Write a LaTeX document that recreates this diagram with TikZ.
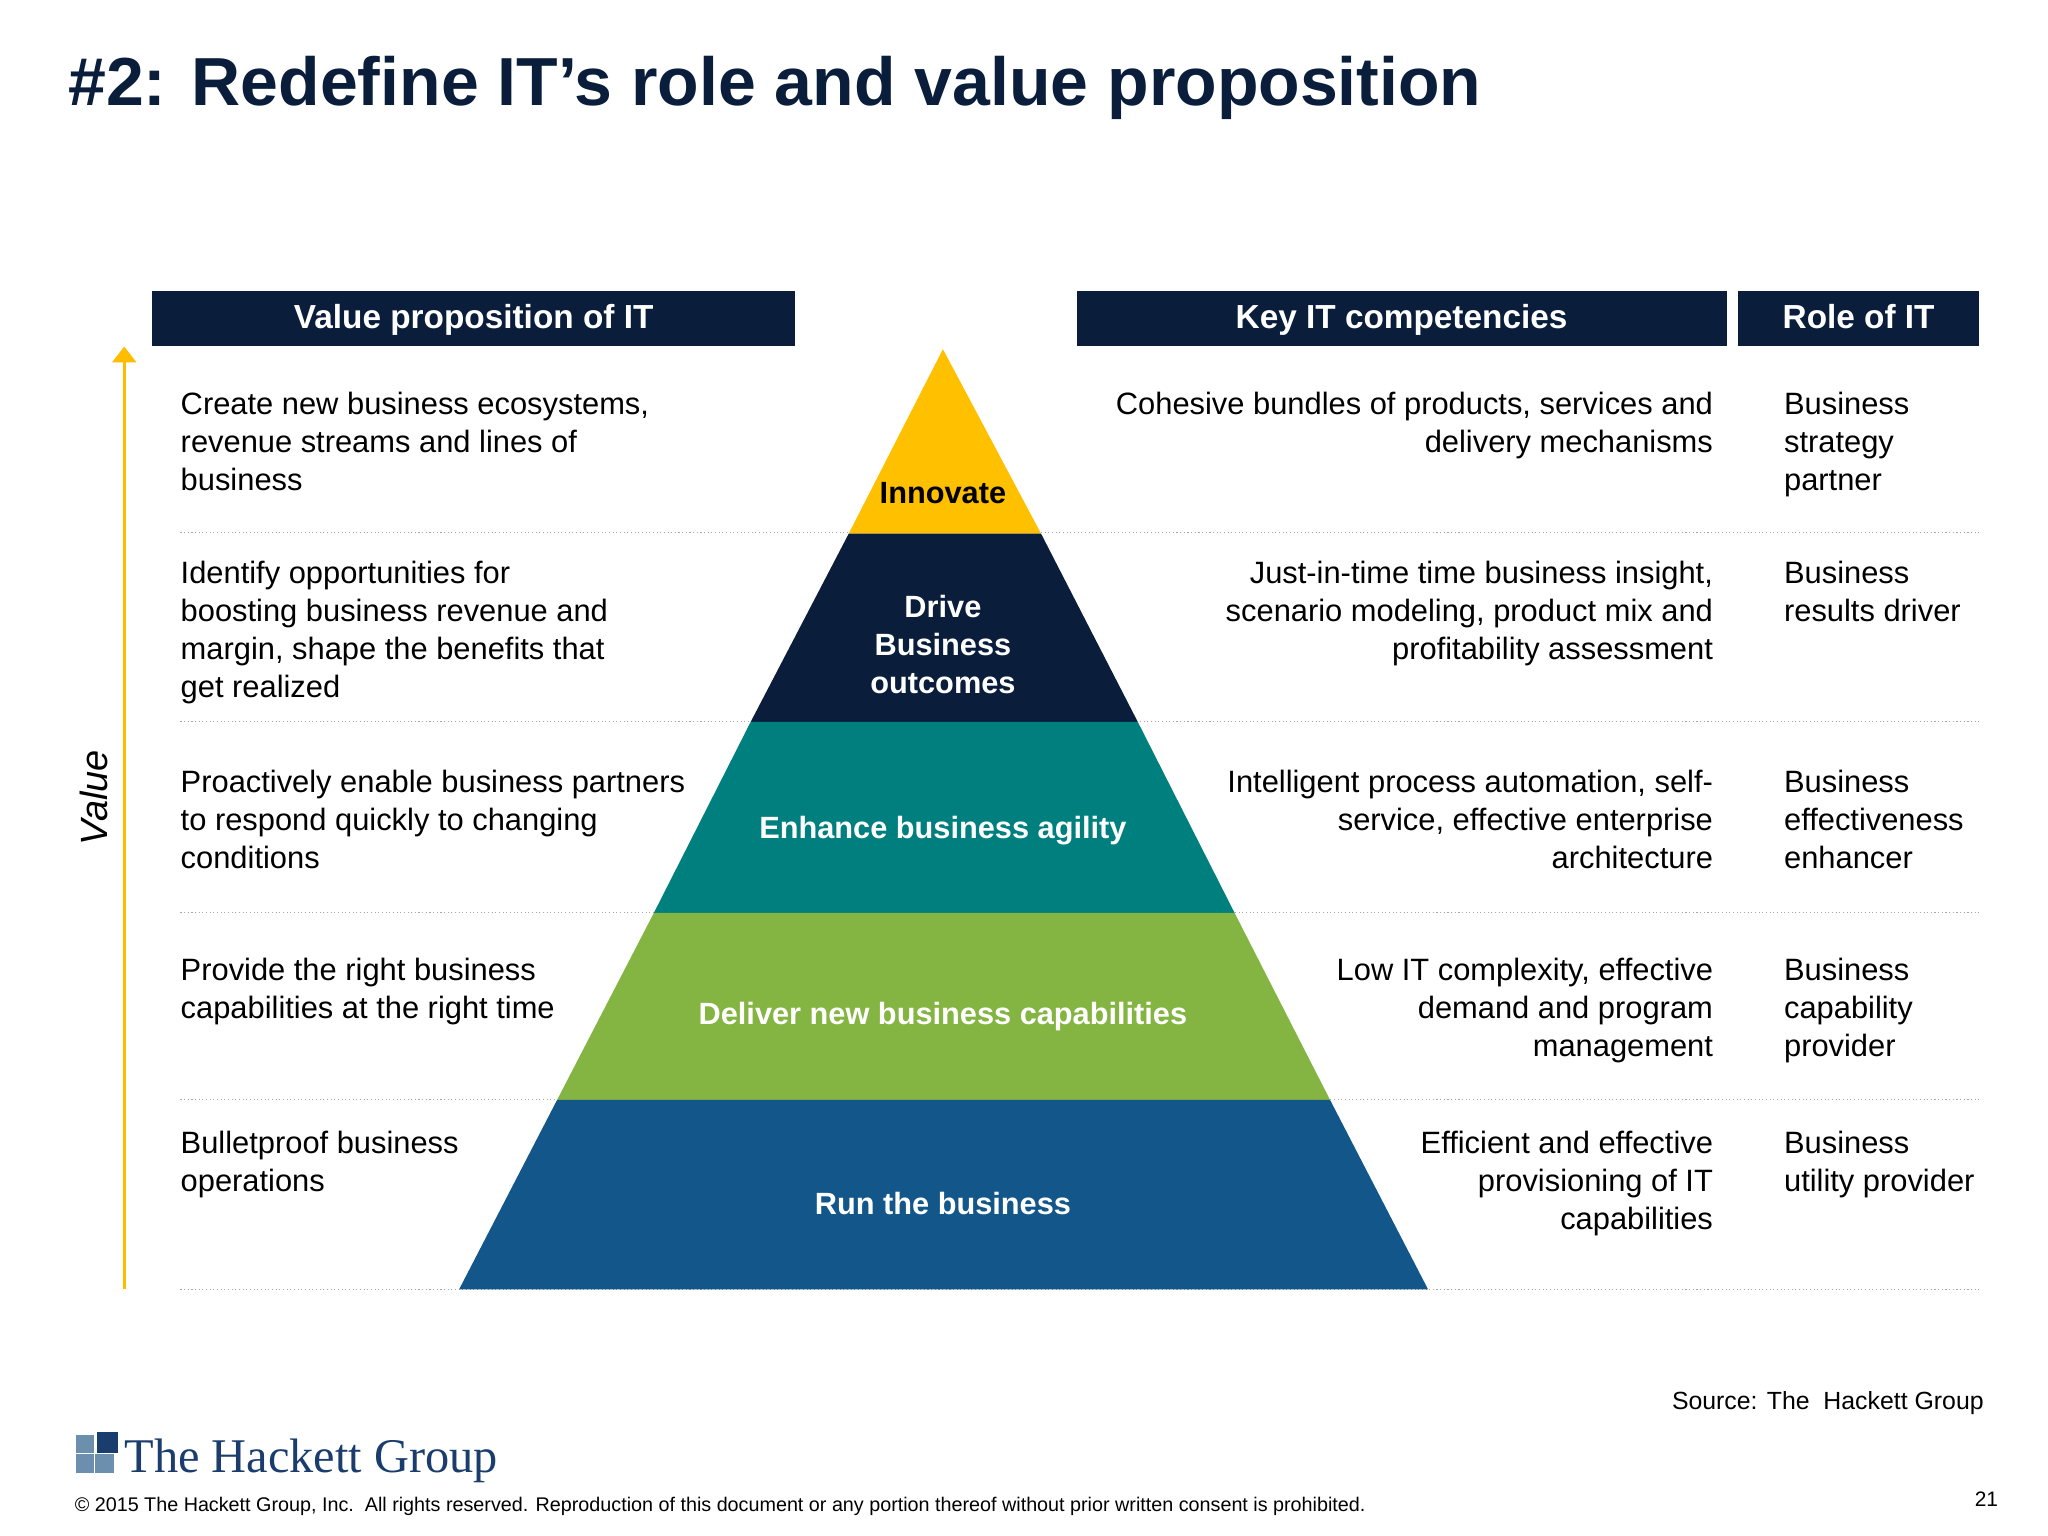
\documentclass[tikz,border=0pt]{standalone}
\usepackage{fontspec}
\usetikzlibrary{arrows.meta}
\setmainfont{Liberation Sans}
\newfontfamily\serifx{Liberation Serif}
\begin{document}
\begin{tikzpicture}[x=1pt,y=-1pt,
  body/.style={font=\fontsize{23.6}{29}\selectfont,inner sep=0pt,text=black},
  lt/.style={body,anchor=base west,align=left},
  rt/.style={body,anchor=base east,align=right},
  hdr/.style={fill=navy,text=white,font=\fontsize{25.5}{28}\selectfont\bfseries,inner sep=0pt,text depth=2pt},
  lvl/.style={font=\fontsize{23.5}{29}\selectfont\bfseries,text=white,align=center},
  sep/.style={draw=gray!70,dotted,line width=0.8pt}]
\definecolor{navy}{HTML}{0A1E3C}
\definecolor{yel}{HTML}{FFC000}
\definecolor{teal2}{HTML}{007F7F}
\definecolor{grn}{HTML}{84B441}
\definecolor{blu}{HTML}{135689}
\definecolor{logob}{HTML}{1A3D6E}
\definecolor{logol}{HTML}{6C8FAE}
\useasboundingbox[fill=white] (0,0) rectangle (1566,1174);
\node[anchor=base west,inner sep=0pt,text=navy,font=\fontsize{52}{56}\selectfont\bfseries] (title) at (52,81) {\#2: Redefine IT’s role and value proposition};
% headers
\node[hdr,minimum width=492,minimum height=42,anchor=north west] (h1) at (116,222) {Value proposition of IT};
\node[hdr,minimum width=497,minimum height=42,anchor=north west] (h2) at (823,222) {Key IT competencies};
\node[hdr,minimum width=184,minimum height=42,anchor=north west] (h3) at (1329,222) {Role of IT};
% separators
\foreach \y in {407,552,698,841,986} \draw[sep] (138,\y) -- (1515,\y);
% pyramid
\fill[yel] (721,267) -- (649,408) -- (796,408) -- cycle;
\fill[navy] (649,408) -- (796,408) -- (870,552) -- (574,552) -- cycle;
\fill[teal2] (574,552) -- (870,552) -- (944,698) -- (500,698) -- cycle;
\fill[grn] (500,698) -- (944,698) -- (1017,841) -- (426,841) -- cycle;
\fill[blu] (426,841) -- (1017,841) -- (1092,986) -- (351,986) -- cycle;
\node[lvl,text=black] (l1) at (721,377) {Innovate};
\node[lvl] (l2) at (721,493) {Drive\\Business\\outcomes};
\node[lvl] (l3) at (721,635) {Enhance business agility};
\node[lvl] (l4) at (721,777) {Deliver new business capabilities};
\node[lvl] (l5) at (721,920) {Run the business};
% arrow
\coordinate (ab) at (95,986); \coordinate (at) at (95,265);
\draw[yel!95!orange,line width=2.5pt,-{Triangle[length=12pt,width=18pt]}] (ab) -- (at);
\node[rotate=90,font=\fontsize{29}{30}\selectfont\itshape] (val) at (72,610) {Value};
% left
\node[lt] (a1) at (138,375) {Create new business ecosystems,\\revenue streams and lines of\\business};
\node[lt] (a2) at (138,533) {Identify opportunities for\\boosting business revenue and\\margin, shape the benefits that\\get realized};
\node[lt] (a3) at (138,664) {Proactively enable business partners\\to respond quickly to changing\\conditions};
\node[lt] (a4) at (138,779) {Provide the right business\\capabilities at the right time};
\node[lt] (a5) at (138,911) {Bulletproof business\\operations};
% middle right
\node[rt] (b1) at (1310,346) {Cohesive bundles of products, services and\\delivery mechanisms};
\node[rt] (b2) at (1310,504) {Just-in-time time business insight,\\scenario modeling, product mix and\\profitability assessment};
\node[rt] (b3) at (1310,664) {Intelligent process automation, self-\\service, effective enterprise\\architecture};
\node[rt] (b4) at (1310,808) {Low IT complexity, effective\\demand and program\\management};
\node[rt] (b5) at (1310,940) {Efficient and effective\\provisioning of IT\\capabilities};
% roles
\node[lt] (c1) at (1364,375) {Business\\strategy\\partner};
\node[lt] (c2) at (1364,475) {Business\\results driver};
\node[lt] (c3) at (1364,664) {Business\\effectiveness\\enhancer};
\node[lt] (c4) at (1364,808) {Business\\capability\\provider};
\node[lt] (c5) at (1364,911) {Business\\utility provider};
% footer
\node[anchor=base east,inner sep=0pt,font=\fontsize{19}{22}\selectfont] (src) at (1517,1078) {Source: The\ \ Hackett Group};
\fill[logol] (58,1097) rectangle (72,1111);
\fill[logol] (58,1112) rectangle (72,1126);
\fill[logol] (73,1112) rectangle (87,1126);
\fill[logob] (74,1095) rectangle (90,1111);
\node[anchor=base west,inner sep=0pt,text=logob,font=\serifx\fontsize{37}{40}\selectfont] (logo) at (95,1126) {The Hackett Group};
\node[anchor=base west,inner sep=0pt,font=\fontsize{15.1}{16}\selectfont] (copy) at (57,1156) {© 2015 The Hackett Group, Inc.\ \ All rights reserved. Reproduction of this document or any portion thereof without prior written consent is prohibited.};
\node[anchor=base east,inner sep=0pt,font=\fontsize{16}{18}\selectfont] (pg) at (1528,1152) {21};
\end{tikzpicture}
\end{document}
